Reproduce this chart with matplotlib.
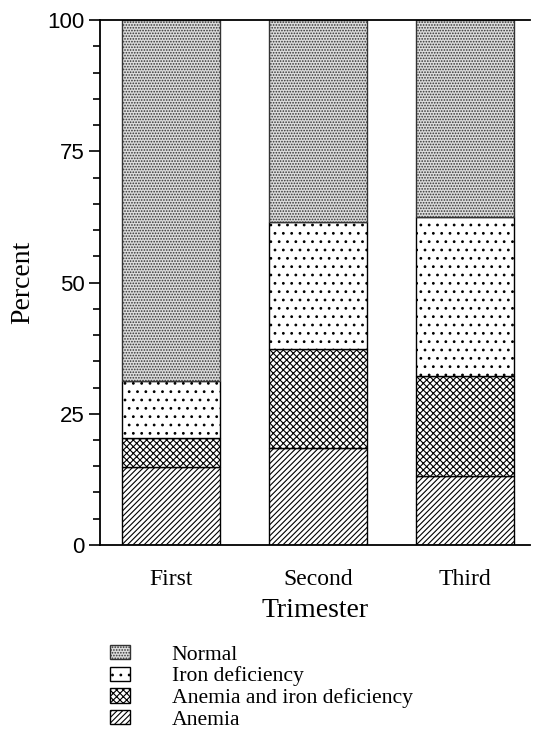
import matplotlib
matplotlib.use("Agg")
import matplotlib.pyplot as plt
import numpy as np

# ////data (cumulative tops -> segment heights)
trimesters = ["First", "Second", "Third"]
anemia = [14.9, 18.4, 13.1]
anemia_iron = [5.5, 18.9, 19.0]
iron_def = [10.9, 24.2, 30.4]
normal = [100 - a - b - c for a, b, c in zip(anemia, anemia_iron, iron_def)]

plt.rcParams['hatch.linewidth'] = 0.8

fig = plt.figure(figsize=(5.33, 7.32), dpi=100)
ax = fig.add_axes([0.1876, 0.2555, 0.807, 0.717])

x = np.arange(len(trimesters))
w = 0.667
b1 = np.array(anemia)
b2 = b1 + np.array(anemia_iron)
b3 = b2 + np.array(iron_def)

h_an = ax.bar(x, anemia, w, color="white", edgecolor="black", hatch="//////", lw=1)
h_ai = ax.bar(x, anemia_iron, w, bottom=b1, color="white", edgecolor="black", hatch="xxxxx", lw=1)
h_id = ax.bar(x, iron_def, w, bottom=b2, color="white", edgecolor="black", hatch="..", lw=1)
h_no = ax.bar(x, normal, w, bottom=b3, color="#dcdcdc", edgecolor="#333333", hatch="......", lw=1)

ax.set_xlim(-0.483, 2.44)
ax.set_ylim(0, 100)
ax.set_yticks([0, 25, 50, 75, 100])
ax.set_yticks(np.arange(0, 101, 5), minor=True)
ax.set_xticks(x)
ax.set_xticklabels(trimesters, family="Liberation Serif", fontsize=17)
ax.tick_params(axis="x", length=0, pad=17)
ax.tick_params(axis="y", which="major", length=8, width=1.2, labelsize=16, pad=3)
ax.tick_params(axis="y", which="minor", length=5, width=1.2)
for t in ax.get_yticklabels():
    t.set_family("Liberation Sans")
ax.spines["right"].set_visible(False)
for s in ["left", "top", "bottom"]:
    ax.spines[s].set_linewidth(1.3)

ax.set_xlabel("Trimester", family="Liberation Serif", fontsize=20, labelpad=6)
ax.set_ylabel("Percent", family="Liberation Serif", fontsize=20, labelpad=9)

fig.legend([h_no, h_id, h_ai, h_an],
           ["Normal", "Iron deficiency", "Anemia and iron deficiency", "Anemia"],
           loc="upper left", bbox_to_anchor=(0.206, 0.119), frameon=False,
           prop={"family": "Liberation Serif", "size": 15.6},
           handlelength=0.95, handleheight=0.65, handletextpad=1.9,
           labelspacing=0.08, borderpad=0, borderaxespad=0)

fig.savefig("out.png", dpi=100)
